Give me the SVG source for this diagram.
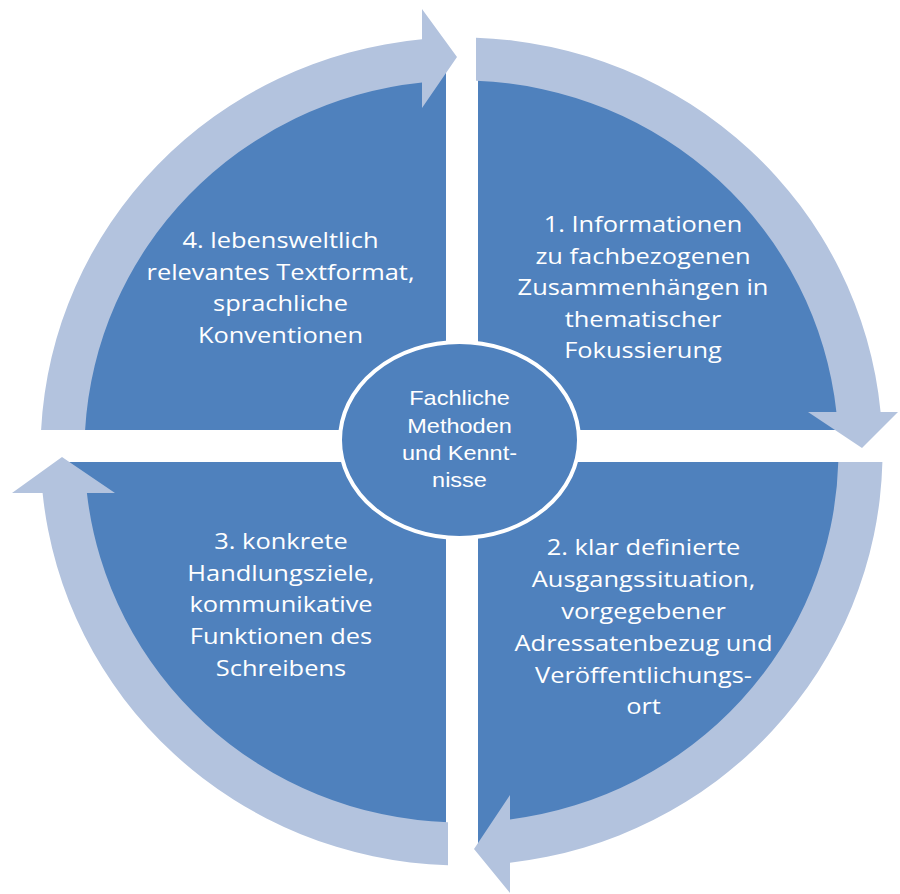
<svg xmlns="http://www.w3.org/2000/svg" width="900" height="894" viewBox="0 0 900 894">
<style>
.q{fill:#4F81BD}
.arr{fill:#B3C3DE}
.t{font-family:"Open Sans","Noto Sans",sans-serif;font-size:22.7px;fill:#fff;text-anchor:middle}
.c{font-family:"Liberation Sans",Arial,sans-serif;font-size:21px;fill:#fff;text-anchor:middle}
</style>
<rect width="900" height="894" fill="#fff"/>
<g id="q4">
<path class="q" d="M446 430 L62.1 430 A400 394 0 0 1 446 57.8 Z"/>
<text class="t" transform="translate(280.5 0) scale(1.12 1)"><tspan x="0" y="248">4. lebensweltlich</tspan><tspan x="0" y="280">relevantes Textformat,</tspan><tspan x="0" y="311.5">sprachliche</tspan><tspan x="0" y="343">Konventionen</tspan></text>
</g>
<g id="q1">
<path class="q" d="M478 430 L478 57.8 A400 394 0 0 1 860.9 430 Z"/>
<text class="t" transform="translate(643 0) scale(1.12 1)"><tspan x="0" y="232">1. Informationen</tspan><tspan x="0" y="264">zu fachbezogenen</tspan><tspan x="0" y="295">Zusammenhängen in</tspan><tspan x="0" y="327">thematischer</tspan><tspan x="0" y="358.5">Fokussierung</tspan></text>
</g>
<g id="q2">
<path class="q" d="M478 462 L861.4 462 A400 394 0 0 1 478 845.2 Z"/>
<text class="t" transform="translate(643.5 0) scale(1.12 1)"><tspan x="0" y="555">2. klar definierte</tspan><tspan x="0" y="587">Ausgangssituation,</tspan><tspan x="0" y="619">vorgegebener</tspan><tspan x="0" y="651">Adressatenbezug und</tspan><tspan x="0" y="683">Veröffentlichungs-</tspan><tspan x="0" y="714.5">ort</tspan></text>
</g>
<g id="q3">
<path class="q" d="M446 462 L446 845.2 A400 394 0 0 1 61.6 462 Z"/>
<text class="t" transform="translate(281 0) scale(1.12 1)"><tspan x="0" y="549.5">3. konkrete</tspan><tspan x="0" y="581.5">Handlungsziele,</tspan><tspan x="0" y="612.5">kommunikative</tspan><tspan x="0" y="644.5">Funktionen des</tspan><tspan x="0" y="676.5">Schreibens</tspan></text>
</g>
<g id="connectors">
<path class="arr" d="M41.1 430 A421 414 0 0 1 422 39.3 L422 9 L457 57 L422 108 L422 82.5 A377 371 0 0 0 85.1 430 Z"/>
<path class="arr" d="M476 37.7 A421 414 0 0 1 880.6 412 L898 412 L862 448 L808 412 L836.4 412 A377 371 0 0 0 476 80.8 Z"/>
<path class="arr" d="M882.4 462 A421 414 0 0 1 510 862.7 L510 893 L474 849 L510 795 L510 819.4 A377 371 0 0 0 838.3 462 Z"/>
<path class="arr" d="M448 865.3 A421 414 0 0 1 42.6 493 L12 493 L62 457 L115 493 L86.9 493 A377 371 0 0 0 448 822.3 Z"/>
</g>
<g id="center">
<ellipse cx="459.5" cy="440" rx="119.5" ry="98" fill="#4F81BD" stroke="#fff" stroke-width="4"/>
<text class="c" transform="translate(459.5 0) scale(1.12 1)"><tspan x="0" y="405">Fachliche</tspan><tspan x="0" y="433">Methoden</tspan><tspan x="0" y="460">und Kennt-</tspan><tspan x="0" y="487">nisse</tspan></text>
</g>
</svg>
